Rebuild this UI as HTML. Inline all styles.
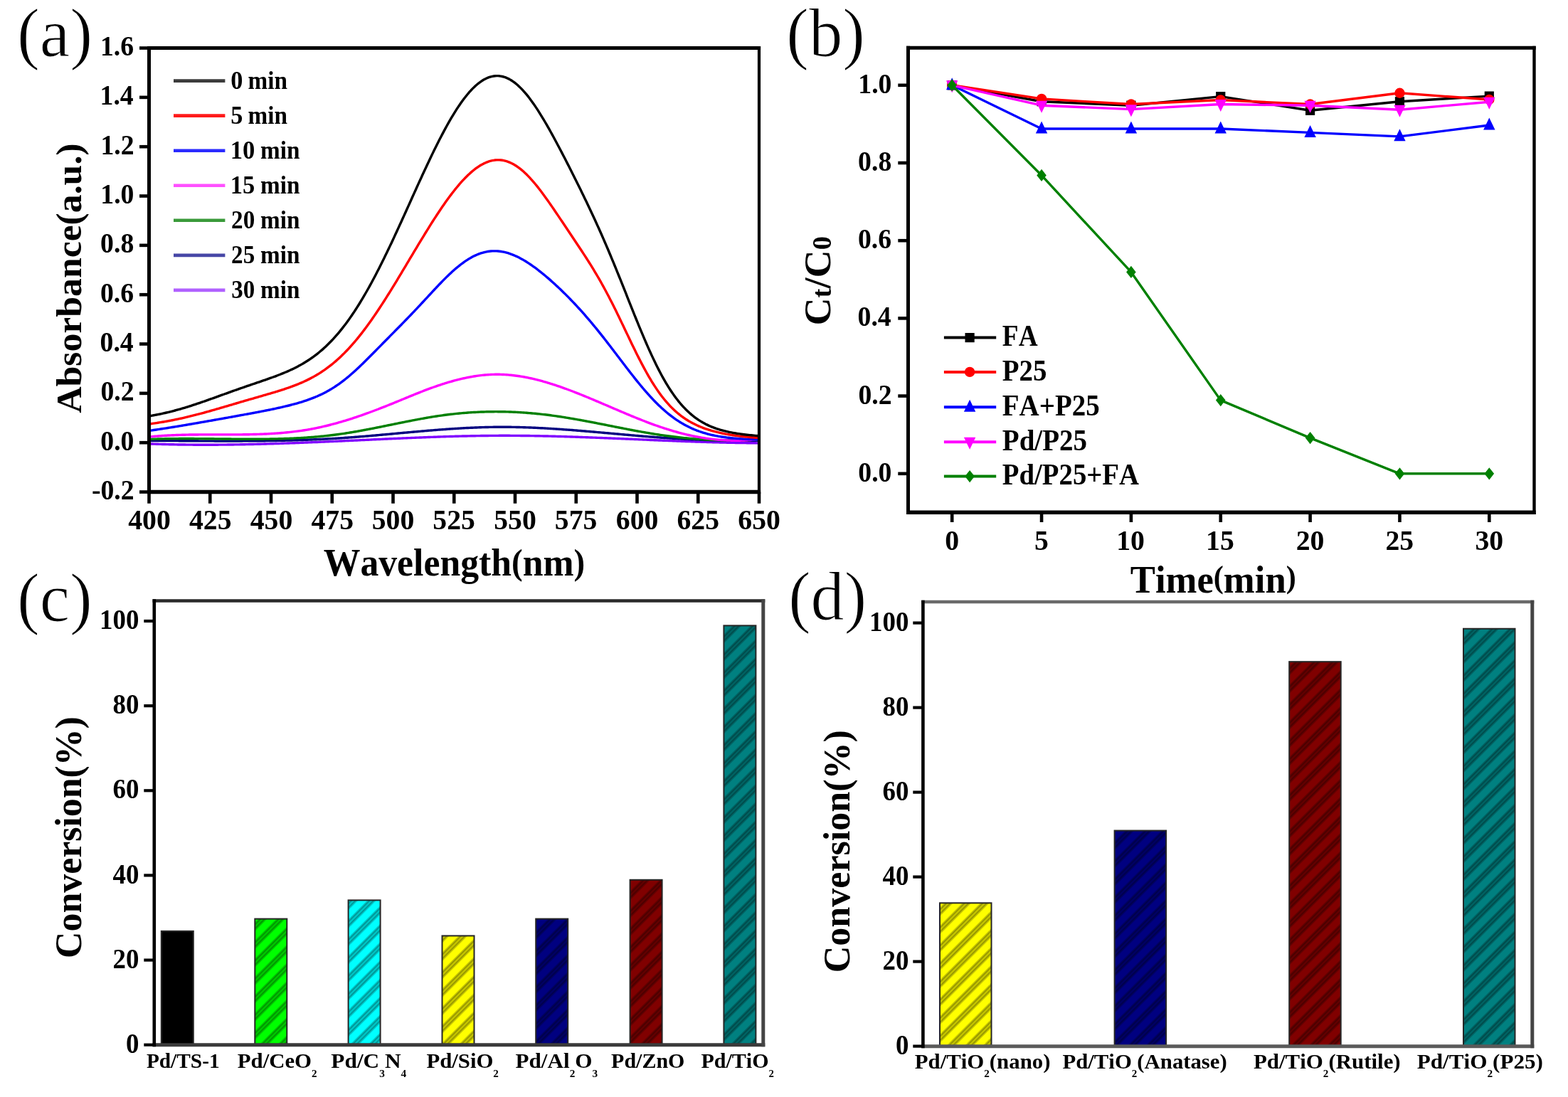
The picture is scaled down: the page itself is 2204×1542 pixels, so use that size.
<!DOCTYPE html><html><head><meta charset="utf-8"><title>Figure</title><style>html,body{margin:0;padding:0;background:#fff;}svg{display:block;filter:blur(0.7px);}text{font-family:"Liberation Serif","Times New Roman",serif;font-weight:bold;fill:#000;font-kerning:none;font-feature-settings:"kern" 0,"liga" 0;}.tn{font-weight:normal;stroke:#fff;stroke-width:1.2px;}.tb{stroke:none;}.ts{stroke:none;}</style></head><body>
<svg xmlns="http://www.w3.org/2000/svg" width="2204" height="1542" viewBox="0 0 2204 1542">
<defs>
<pattern id="h000080" patternUnits="userSpaceOnUse" width="18" height="18" patternTransform="rotate(45)">
<rect width="18" height="18" fill="#000080"/><rect width="9" height="18" fill="#000066"/><rect x="1.6" width="1.7" height="18" fill="#000046"/><rect x="5.6" width="1.7" height="18" fill="#000046"/>
</pattern>
<pattern id="h008080" patternUnits="userSpaceOnUse" width="18" height="18" patternTransform="rotate(45)">
<rect width="18" height="18" fill="#008080"/><rect width="9" height="18" fill="#006666"/><rect x="1.6" width="1.7" height="18" fill="#004646"/><rect x="5.6" width="1.7" height="18" fill="#004646"/>
</pattern>
<pattern id="h00ff00" patternUnits="userSpaceOnUse" width="18" height="18" patternTransform="rotate(45)">
<rect width="18" height="18" fill="#00ff00"/><rect width="9" height="18" fill="#00cc00"/><rect x="1.6" width="1.7" height="18" fill="#008c00"/><rect x="5.6" width="1.7" height="18" fill="#008c00"/>
</pattern>
<pattern id="h00ffff" patternUnits="userSpaceOnUse" width="18" height="18" patternTransform="rotate(45)">
<rect width="18" height="18" fill="#00ffff"/><rect width="9" height="18" fill="#00cccc"/><rect x="1.6" width="1.7" height="18" fill="#008c8c"/><rect x="5.6" width="1.7" height="18" fill="#008c8c"/>
</pattern>
<pattern id="h800000" patternUnits="userSpaceOnUse" width="18" height="18" patternTransform="rotate(45)">
<rect width="18" height="18" fill="#800000"/><rect width="9" height="18" fill="#660000"/><rect x="1.6" width="1.7" height="18" fill="#460000"/><rect x="5.6" width="1.7" height="18" fill="#460000"/>
</pattern>
<pattern id="hffff00" patternUnits="userSpaceOnUse" width="18" height="18" patternTransform="rotate(45)">
<rect width="18" height="18" fill="#ffff00"/><rect width="9" height="18" fill="#cccc00"/><rect x="1.6" width="1.7" height="18" fill="#8c8c00"/><rect x="5.6" width="1.7" height="18" fill="#8c8c00"/>
</pattern>
</defs>
<rect width="2204" height="1542" fill="#fff"/>
<g>
<clipPath id="ca"><rect x="209.5" y="67.5" width="857.5" height="624.0"/></clipPath>
<g clip-path="url(#ca)" fill="none" stroke-width="3.4" stroke-linejoin="round">
<path d="M210,623.88 L212,623.95 L214,624.02 L216,624.09 L218,624.15 L220,624.22 L222,624.28 L224,624.34 L226,624.39 L228,624.45 L230,624.5 L232,624.55 L234,624.6 L236,624.65 L238,624.69 L240,624.74 L242,624.78 L244,624.82 L246,624.86 L248,624.89 L250,624.93 L252,624.96 L254,624.99 L256,625.02 L258,625.05 L260,625.07 L262,625.09 L264,625.12 L266,625.14 L268,625.15 L270,625.17 L272,625.18 L274,625.2 L276,625.21 L278,625.22 L280,625.23 L282,625.23 L284,625.24 L286,625.24 L288,625.24 L290,625.24 L292,625.24 L294,625.24 L296,625.23 L298,625.23 L300,625.22 L302,625.21 L304,625.2 L306,625.18 L308,625.17 L310,625.16 L312,625.14 L314,625.12 L316,625.1 L318,625.08 L320,625.06 L322,625.03 L324,625.01 L326,624.98 L328,624.95 L330,624.92 L332,624.89 L334,624.86 L336,624.83 L338,624.8 L340,624.76 L342,624.72 L344,624.69 L346,624.65 L348,624.61 L350,624.56 L352,624.52 L354,624.48 L356,624.43 L358,624.39 L360,624.34 L362,624.29 L364,624.24 L366,624.19 L368,624.14 L370,624.08 L372,624.03 L374,623.98 L376,623.92 L378,623.86 L380,623.81 L382,623.75 L384,623.69 L386,623.63 L388,623.56 L390,623.5 L392,623.44 L394,623.37 L396,623.31 L398,623.24 L400,623.17 L402,623.11 L404,623.04 L406,622.97 L408,622.9 L410,622.83 L412,622.75 L414,622.68 L416,622.61 L418,622.53 L420,622.46 L422,622.38 L424,622.31 L426,622.23 L428,622.15 L430,622.07 L432,622 L434,621.92 L436,621.84 L438,621.75 L440,621.67 L442,621.59 L444,621.51 L446,621.43 L448,621.34 L450,621.26 L452,621.17 L454,621.09 L456,621 L458,620.92 L460,620.83 L462,620.74 L464,620.65 L466,620.57 L468,620.48 L470,620.39 L472,620.3 L474,620.21 L476,620.12 L478,620.03 L480,619.94 L482,619.85 L484,619.76 L486,619.67 L488,619.57 L490,619.48 L492,619.39 L494,619.3 L496,619.2 L498,619.11 L500,619.02 L502,618.93 L504,618.83 L506,618.74 L508,618.65 L510,618.55 L512,618.46 L514,618.37 L516,618.27 L518,618.18 L520,618.09 L522,617.99 L524,617.9 L526,617.81 L528,617.72 L530,617.62 L532,617.53 L534,617.44 L536,617.35 L538,617.25 L540,617.16 L542,617.07 L544,616.98 L546,616.89 L548,616.8 L550,616.71 L552,616.62 L554,616.53 L556,616.44 L558,616.35 L560,616.26 L562,616.18 L564,616.09 L566,616 L568,615.92 L570,615.83 L572,615.75 L574,615.66 L576,615.58 L578,615.49 L580,615.41 L582,615.33 L584,615.25 L586,615.17 L588,615.09 L590,615.01 L592,614.93 L594,614.85 L596,614.77 L598,614.7 L600,614.62 L602,614.55 L604,614.47 L606,614.4 L608,614.33 L610,614.26 L612,614.19 L614,614.12 L616,614.05 L618,613.99 L620,613.92 L622,613.85 L624,613.79 L626,613.73 L628,613.67 L630,613.6 L632,613.55 L634,613.49 L636,613.43 L638,613.37 L640,613.32 L642,613.27 L644,613.21 L646,613.16 L648,613.11 L650,613.06 L652,613.02 L654,612.97 L656,612.93 L658,612.88 L660,612.84 L662,612.8 L664,612.76 L666,612.73 L668,612.69 L670,612.66 L672,612.62 L674,612.59 L676,612.56 L678,612.53 L680,612.51 L682,612.48 L684,612.46 L686,612.44 L688,612.42 L690,612.4 L692,612.38 L694,612.37 L696,612.35 L698,612.34 L700,612.33 L702,612.32 L704,612.32 L706,612.31 L708,612.31 L710,612.31 L712,612.31 L714,612.32 L716,612.32 L718,612.33 L720,612.34 L722,612.35 L724,612.36 L726,612.37 L728,612.39 L730,612.41 L732,612.43 L734,612.45 L736,612.47 L738,612.49 L740,612.52 L742,612.54 L744,612.57 L746,612.6 L748,612.63 L750,612.67 L752,612.7 L754,612.74 L756,612.77 L758,612.81 L760,612.85 L762,612.89 L764,612.93 L766,612.98 L768,613.02 L770,613.07 L772,613.12 L774,613.17 L776,613.21 L778,613.27 L780,613.32 L782,613.37 L784,613.43 L786,613.48 L788,613.54 L790,613.6 L792,613.66 L794,613.72 L796,613.78 L798,613.84 L800,613.9 L802,613.96 L804,614.03 L806,614.09 L808,614.16 L810,614.23 L812,614.3 L814,614.37 L816,614.44 L818,614.51 L820,614.58 L822,614.65 L824,614.72 L826,614.8 L828,614.87 L830,614.94 L832,615.02 L834,615.1 L836,615.17 L838,615.25 L840,615.33 L842,615.41 L844,615.49 L846,615.57 L848,615.65 L850,615.73 L852,615.81 L854,615.89 L856,615.97 L858,616.05 L860,616.13 L862,616.22 L864,616.3 L866,616.38 L868,616.47 L870,616.55 L872,616.64 L874,616.72 L876,616.8 L878,616.89 L880,616.97 L882,617.06 L884,617.14 L886,617.23 L888,617.32 L890,617.4 L892,617.49 L894,617.57 L896,617.66 L898,617.74 L900,617.83 L902,617.91 L904,618 L906,618.09 L908,618.17 L910,618.26 L912,618.34 L914,618.43 L916,618.51 L918,618.59 L920,618.68 L922,618.76 L924,618.85 L926,618.93 L928,619.01 L930,619.09 L932,619.18 L934,619.26 L936,619.34 L938,619.42 L940,619.5 L942,619.58 L944,619.66 L946,619.74 L948,619.82 L950,619.9 L952,619.98 L954,620.05 L956,620.13 L958,620.21 L960,620.28 L962,620.36 L964,620.43 L966,620.5 L968,620.57 L970,620.65 L972,620.72 L974,620.79 L976,620.86 L978,620.93 L980,620.99 L982,621.06 L984,621.13 L986,621.19 L988,621.26 L990,621.32 L992,621.38 L994,621.44 L996,621.5 L998,621.56 L1000,621.62 L1002,621.68 L1004,621.74 L1006,621.79 L1008,621.84 L1010,621.9 L1012,621.95 L1014,622 L1016,622.05 L1018,622.1 L1020,622.14 L1022,622.19 L1024,622.23 L1026,622.28 L1028,622.32 L1030,622.36 L1032,622.4 L1034,622.44 L1036,622.47 L1038,622.51 L1040,622.54 L1042,622.57 L1044,622.6 L1046,622.63 L1048,622.66 L1050,622.69 L1052,622.71 L1054,622.74 L1056,622.76 L1058,622.78 L1060,622.79 L1062,622.81 L1064,622.83 L1066,622.84" stroke="#8000ff"/>
<path d="M210,619.51 L212,619.51 L214,619.52 L216,619.52 L218,619.53 L220,619.53 L222,619.54 L224,619.55 L226,619.55 L228,619.56 L230,619.57 L232,619.58 L234,619.59 L236,619.59 L238,619.6 L240,619.61 L242,619.62 L244,619.63 L246,619.64 L248,619.66 L250,619.67 L252,619.68 L254,619.69 L256,619.7 L258,619.71 L260,619.72 L262,619.73 L264,619.74 L266,619.76 L268,619.77 L270,619.78 L272,619.79 L274,619.8 L276,619.81 L278,619.82 L280,619.83 L282,619.84 L284,619.85 L286,619.86 L288,619.87 L290,619.88 L292,619.89 L294,619.9 L296,619.9 L298,619.91 L300,619.92 L302,619.93 L304,619.93 L306,619.94 L308,619.94 L310,619.95 L312,619.95 L314,619.95 L316,619.96 L318,619.96 L320,619.96 L322,619.96 L324,619.96 L326,619.96 L328,619.96 L330,619.96 L332,619.95 L334,619.95 L336,619.94 L338,619.94 L340,619.93 L342,619.92 L344,619.91 L346,619.91 L348,619.89 L350,619.88 L352,619.87 L354,619.86 L356,619.84 L358,619.83 L360,619.81 L362,619.79 L364,619.77 L366,619.75 L368,619.73 L370,619.7 L372,619.68 L374,619.65 L376,619.62 L378,619.6 L380,619.57 L382,619.53 L384,619.5 L386,619.47 L388,619.43 L390,619.39 L392,619.35 L394,619.31 L396,619.27 L398,619.23 L400,619.18 L402,619.13 L404,619.08 L406,619.03 L408,618.98 L410,618.93 L412,618.87 L414,618.81 L416,618.75 L418,618.69 L420,618.63 L422,618.56 L424,618.5 L426,618.43 L428,618.36 L430,618.28 L432,618.21 L434,618.13 L436,618.05 L438,617.97 L440,617.89 L442,617.8 L444,617.71 L446,617.62 L448,617.53 L450,617.44 L452,617.34 L454,617.24 L456,617.14 L458,617.03 L460,616.93 L462,616.82 L464,616.71 L466,616.6 L468,616.48 L470,616.36 L472,616.24 L474,616.12 L476,615.99 L478,615.86 L480,615.73 L482,615.6 L484,615.46 L486,615.32 L488,615.18 L490,615.04 L492,614.89 L494,614.74 L496,614.59 L498,614.44 L500,614.29 L502,614.13 L504,613.97 L506,613.81 L508,613.65 L510,613.49 L512,613.32 L514,613.15 L516,612.99 L518,612.82 L520,612.65 L522,612.47 L524,612.3 L526,612.13 L528,611.95 L530,611.77 L532,611.6 L534,611.42 L536,611.24 L538,611.06 L540,610.88 L542,610.7 L544,610.51 L546,610.33 L548,610.15 L550,609.97 L552,609.78 L554,609.6 L556,609.42 L558,609.23 L560,609.05 L562,608.86 L564,608.68 L566,608.5 L568,608.31 L570,608.13 L572,607.95 L574,607.77 L576,607.59 L578,607.41 L580,607.23 L582,607.05 L584,606.87 L586,606.69 L588,606.51 L590,606.34 L592,606.17 L594,605.99 L596,605.82 L598,605.65 L600,605.48 L602,605.31 L604,605.15 L606,604.98 L608,604.82 L610,604.66 L612,604.5 L614,604.34 L616,604.18 L618,604.03 L620,603.88 L622,603.73 L624,603.58 L626,603.43 L628,603.29 L630,603.15 L632,603.01 L634,602.87 L636,602.74 L638,602.61 L640,602.48 L642,602.36 L644,602.24 L646,602.12 L648,602 L650,601.89 L652,601.78 L654,601.67 L656,601.56 L658,601.46 L660,601.37 L662,601.27 L664,601.18 L666,601.1 L668,601.01 L670,600.93 L672,600.86 L674,600.79 L676,600.72 L678,600.66 L680,600.6 L682,600.54 L684,600.49 L686,600.44 L688,600.4 L690,600.36 L692,600.33 L694,600.3 L696,600.28 L698,600.26 L700,600.24 L702,600.23 L704,600.22 L706,600.22 L708,600.23 L710,600.23 L712,600.25 L714,600.26 L716,600.28 L718,600.31 L720,600.34 L722,600.37 L724,600.41 L726,600.45 L728,600.49 L730,600.54 L732,600.6 L734,600.65 L736,600.71 L738,600.78 L740,600.84 L742,600.92 L744,600.99 L746,601.07 L748,601.15 L750,601.24 L752,601.32 L754,601.41 L756,601.51 L758,601.61 L760,601.71 L762,601.81 L764,601.92 L766,602.03 L768,602.14 L770,602.25 L772,602.37 L774,602.49 L776,602.61 L778,602.74 L780,602.87 L782,603 L784,603.13 L786,603.27 L788,603.4 L790,603.54 L792,603.68 L794,603.83 L796,603.97 L798,604.12 L800,604.27 L802,604.42 L804,604.57 L806,604.73 L808,604.89 L810,605.04 L812,605.2 L814,605.36 L816,605.53 L818,605.69 L820,605.86 L822,606.02 L824,606.19 L826,606.36 L828,606.53 L830,606.7 L832,606.87 L834,607.05 L836,607.22 L838,607.4 L840,607.57 L842,607.75 L844,607.92 L846,608.1 L848,608.28 L850,608.46 L852,608.63 L854,608.81 L856,608.99 L858,609.17 L860,609.35 L862,609.53 L864,609.71 L866,609.89 L868,610.06 L870,610.24 L872,610.42 L874,610.6 L876,610.78 L878,610.95 L880,611.13 L882,611.31 L884,611.48 L886,611.66 L888,611.83 L890,612 L892,612.18 L894,612.35 L896,612.52 L898,612.69 L900,612.86 L902,613.02 L904,613.19 L906,613.35 L908,613.52 L910,613.68 L912,613.84 L914,614 L916,614.15 L918,614.31 L920,614.46 L922,614.61 L924,614.76 L926,614.91 L928,615.06 L930,615.2 L932,615.34 L934,615.48 L936,615.62 L938,615.76 L940,615.89 L942,616.02 L944,616.15 L946,616.27 L948,616.4 L950,616.52 L952,616.64 L954,616.76 L956,616.87 L958,616.98 L960,617.09 L962,617.2 L964,617.3 L966,617.4 L968,617.5 L970,617.6 L972,617.7 L974,617.79 L976,617.88 L978,617.97 L980,618.05 L982,618.13 L984,618.21 L986,618.29 L988,618.37 L990,618.44 L992,618.51 L994,618.57 L996,618.64 L998,618.7 L1000,618.76 L1002,618.82 L1004,618.87 L1006,618.92 L1008,618.97 L1010,619.02 L1012,619.06 L1014,619.1 L1016,619.14 L1018,619.18 L1020,619.21 L1022,619.24 L1024,619.26 L1026,619.29 L1028,619.31 L1030,619.33 L1032,619.35 L1034,619.36 L1036,619.37 L1038,619.38 L1040,619.38 L1042,619.38 L1044,619.38 L1046,619.38 L1048,619.37 L1050,619.36 L1052,619.35 L1054,619.34 L1056,619.32 L1058,619.3 L1060,619.27 L1062,619.25 L1064,619.22 L1066,619.18" stroke="#000080"/>
<path d="M210,617.43 L212,617.35 L214,617.28 L216,617.21 L218,617.15 L220,617.09 L222,617.03 L224,616.98 L226,616.93 L228,616.88 L230,616.84 L232,616.8 L234,616.76 L236,616.73 L238,616.7 L240,616.67 L242,616.65 L244,616.63 L246,616.61 L248,616.59 L250,616.58 L252,616.57 L254,616.56 L256,616.55 L258,616.55 L260,616.54 L262,616.54 L264,616.54 L266,616.55 L268,616.55 L270,616.56 L272,616.57 L274,616.58 L276,616.59 L278,616.6 L280,616.61 L282,616.63 L284,616.65 L286,616.66 L288,616.68 L290,616.7 L292,616.72 L294,616.74 L296,616.76 L298,616.78 L300,616.8 L302,616.83 L304,616.85 L306,616.87 L308,616.89 L310,616.92 L312,616.94 L314,616.96 L316,616.98 L318,617.01 L320,617.03 L322,617.05 L324,617.07 L326,617.09 L328,617.11 L330,617.12 L332,617.14 L334,617.16 L336,617.17 L338,617.19 L340,617.2 L342,617.21 L344,617.22 L346,617.23 L348,617.23 L350,617.24 L352,617.24 L354,617.24 L356,617.24 L358,617.24 L360,617.23 L362,617.23 L364,617.22 L366,617.21 L368,617.19 L370,617.18 L372,617.16 L374,617.13 L376,617.11 L378,617.08 L380,617.05 L382,617.02 L384,616.98 L386,616.94 L388,616.9 L390,616.85 L392,616.8 L394,616.75 L396,616.69 L398,616.63 L400,616.57 L402,616.5 L404,616.42 L406,616.35 L408,616.27 L410,616.18 L412,616.09 L414,616 L416,615.9 L418,615.8 L420,615.69 L422,615.58 L424,615.46 L426,615.34 L428,615.21 L430,615.08 L432,614.95 L434,614.8 L436,614.66 L438,614.5 L440,614.35 L442,614.18 L444,614.01 L446,613.84 L448,613.66 L450,613.47 L452,613.28 L454,613.08 L456,612.87 L458,612.66 L460,612.44 L462,612.22 L464,611.99 L466,611.75 L468,611.51 L470,611.26 L472,611 L474,610.74 L476,610.47 L478,610.19 L480,609.9 L482,609.61 L484,609.31 L486,609.01 L488,608.69 L490,608.37 L492,608.05 L494,607.72 L496,607.39 L498,607.04 L500,606.7 L502,606.35 L504,605.99 L506,605.63 L508,605.27 L510,604.9 L512,604.53 L514,604.15 L516,603.77 L518,603.39 L520,603 L522,602.61 L524,602.22 L526,601.82 L528,601.43 L530,601.03 L532,600.63 L534,600.22 L536,599.82 L538,599.41 L540,599.01 L542,598.6 L544,598.19 L546,597.78 L548,597.37 L550,596.96 L552,596.55 L554,596.14 L556,595.74 L558,595.33 L560,594.92 L562,594.51 L564,594.11 L566,593.71 L568,593.3 L570,592.9 L572,592.51 L574,592.11 L576,591.72 L578,591.33 L580,590.94 L582,590.56 L584,590.17 L586,589.8 L588,589.42 L590,589.05 L592,588.69 L594,588.32 L596,587.97 L598,587.61 L600,587.27 L602,586.92 L604,586.59 L606,586.26 L608,585.93 L610,585.61 L612,585.29 L614,584.99 L616,584.69 L618,584.39 L620,584.1 L622,583.82 L624,583.55 L626,583.28 L628,583.02 L630,582.77 L632,582.53 L634,582.29 L636,582.07 L638,581.85 L640,581.63 L642,581.43 L644,581.23 L646,581.04 L648,580.86 L650,580.68 L652,580.51 L654,580.35 L656,580.2 L658,580.05 L660,579.91 L662,579.78 L664,579.66 L666,579.54 L668,579.43 L670,579.33 L672,579.24 L674,579.15 L676,579.07 L678,579 L680,578.93 L682,578.87 L684,578.82 L686,578.78 L688,578.74 L690,578.71 L692,578.69 L694,578.68 L696,578.67 L698,578.67 L700,578.68 L702,578.69 L704,578.71 L706,578.74 L708,578.77 L710,578.81 L712,578.86 L714,578.92 L716,578.98 L718,579.05 L720,579.13 L722,579.21 L724,579.31 L726,579.4 L728,579.51 L730,579.62 L732,579.74 L734,579.86 L736,580 L738,580.14 L740,580.28 L742,580.44 L744,580.6 L746,580.76 L748,580.94 L750,581.12 L752,581.3 L754,581.5 L756,581.7 L758,581.91 L760,582.12 L762,582.34 L764,582.57 L766,582.8 L768,583.05 L770,583.29 L772,583.55 L774,583.81 L776,584.08 L778,584.35 L780,584.63 L782,584.91 L784,585.21 L786,585.5 L788,585.8 L790,586.11 L792,586.42 L794,586.74 L796,587.07 L798,587.39 L800,587.72 L802,588.06 L804,588.4 L806,588.74 L808,589.09 L810,589.45 L812,589.8 L814,590.16 L816,590.52 L818,590.89 L820,591.26 L822,591.63 L824,592 L826,592.38 L828,592.76 L830,593.14 L832,593.52 L834,593.91 L836,594.29 L838,594.68 L840,595.07 L842,595.46 L844,595.86 L846,596.25 L848,596.64 L850,597.04 L852,597.44 L854,597.83 L856,598.23 L858,598.62 L860,599.02 L862,599.42 L864,599.81 L866,600.21 L868,600.6 L870,600.99 L872,601.39 L874,601.78 L876,602.17 L878,602.56 L880,602.94 L882,603.33 L884,603.71 L886,604.09 L888,604.47 L890,604.85 L892,605.22 L894,605.59 L896,605.96 L898,606.33 L900,606.69 L902,607.05 L904,607.4 L906,607.76 L908,608.1 L910,608.45 L912,608.79 L914,609.12 L916,609.46 L918,609.78 L920,610.1 L922,610.42 L924,610.73 L926,611.04 L928,611.34 L930,611.64 L932,611.93 L934,612.22 L936,612.5 L938,612.77 L940,613.04 L942,613.3 L944,613.55 L946,613.8 L948,614.04 L950,614.28 L952,614.51 L954,614.74 L956,614.96 L958,615.17 L960,615.38 L962,615.58 L964,615.77 L966,615.96 L968,616.15 L970,616.32 L972,616.5 L974,616.66 L976,616.82 L978,616.97 L980,617.12 L982,617.26 L984,617.4 L986,617.53 L988,617.66 L990,617.77 L992,617.89 L994,617.99 L996,618.1 L998,618.19 L1000,618.28 L1002,618.37 L1004,618.44 L1006,618.52 L1008,618.58 L1010,618.64 L1012,618.7 L1014,618.75 L1016,618.79 L1018,618.83 L1020,618.86 L1022,618.89 L1024,618.91 L1026,618.92 L1028,618.93 L1030,618.93 L1032,618.93 L1034,618.92 L1036,618.91 L1038,618.89 L1040,618.87 L1042,618.84 L1044,618.8 L1046,618.76 L1048,618.71 L1050,618.66 L1052,618.6 L1054,618.54 L1056,618.47 L1058,618.39 L1060,618.31 L1062,618.22 L1064,618.13 L1066,618.03" stroke="#008000"/>
<path d="M210,614.04 L212,613.84 L214,613.65 L216,613.47 L218,613.3 L220,613.13 L222,612.97 L224,612.82 L226,612.68 L228,612.54 L230,612.41 L232,612.29 L234,612.18 L236,612.07 L238,611.96 L240,611.87 L242,611.77 L244,611.69 L246,611.61 L248,611.53 L250,611.46 L252,611.4 L254,611.34 L256,611.28 L258,611.23 L260,611.19 L262,611.14 L264,611.1 L266,611.07 L268,611.04 L270,611.01 L272,610.99 L274,610.96 L276,610.95 L278,610.93 L280,610.92 L282,610.91 L284,610.9 L286,610.89 L288,610.89 L290,610.88 L292,610.88 L294,610.88 L296,610.88 L298,610.88 L300,610.89 L302,610.89 L304,610.89 L306,610.9 L308,610.9 L310,610.9 L312,610.91 L314,610.91 L316,610.91 L318,610.92 L320,610.92 L322,610.92 L324,610.92 L326,610.91 L328,610.91 L330,610.9 L332,610.89 L334,610.88 L336,610.87 L338,610.85 L340,610.84 L342,610.82 L344,610.79 L346,610.76 L348,610.73 L350,610.7 L352,610.66 L354,610.62 L356,610.57 L358,610.52 L360,610.47 L362,610.41 L364,610.34 L366,610.27 L368,610.2 L370,610.12 L372,610.04 L374,609.95 L376,609.85 L378,609.75 L380,609.64 L382,609.52 L384,609.4 L386,609.27 L388,609.14 L390,608.99 L392,608.84 L394,608.69 L396,608.52 L398,608.35 L400,608.17 L402,607.98 L404,607.78 L406,607.58 L408,607.37 L410,607.14 L412,606.91 L414,606.67 L416,606.42 L418,606.16 L420,605.89 L422,605.61 L424,605.32 L426,605.02 L428,604.71 L430,604.39 L432,604.06 L434,603.72 L436,603.37 L438,603 L440,602.63 L442,602.24 L444,601.84 L446,601.43 L448,601.01 L450,600.57 L452,600.13 L454,599.68 L456,599.21 L458,598.73 L460,598.25 L462,597.75 L464,597.24 L466,596.72 L468,596.2 L470,595.66 L472,595.11 L474,594.56 L476,593.99 L478,593.42 L480,592.83 L482,592.24 L484,591.64 L486,591.03 L488,590.41 L490,589.79 L492,589.15 L494,588.51 L496,587.86 L498,587.2 L500,586.53 L502,585.86 L504,585.18 L506,584.49 L508,583.8 L510,583.1 L512,582.39 L514,581.68 L516,580.95 L518,580.23 L520,579.49 L522,578.75 L524,578.01 L526,577.26 L528,576.5 L530,575.74 L532,574.97 L534,574.2 L536,573.43 L538,572.64 L540,571.86 L542,571.07 L544,570.27 L546,569.47 L548,568.67 L550,567.86 L552,567.05 L554,566.23 L556,565.42 L558,564.6 L560,563.78 L562,562.95 L564,562.13 L566,561.3 L568,560.48 L570,559.66 L572,558.83 L574,558.01 L576,557.19 L578,556.38 L580,555.56 L582,554.75 L584,553.94 L586,553.14 L588,552.34 L590,551.55 L592,550.77 L594,549.98 L596,549.21 L598,548.44 L600,547.69 L602,546.93 L604,546.19 L606,545.46 L608,544.74 L610,544.02 L612,543.32 L614,542.62 L616,541.94 L618,541.27 L620,540.6 L622,539.95 L624,539.31 L626,538.69 L628,538.07 L630,537.47 L632,536.88 L634,536.3 L636,535.74 L638,535.19 L640,534.65 L642,534.13 L644,533.62 L646,533.13 L648,532.65 L650,532.18 L652,531.73 L654,531.3 L656,530.88 L658,530.48 L660,530.1 L662,529.73 L664,529.38 L666,529.05 L668,528.73 L670,528.43 L672,528.15 L674,527.89 L676,527.65 L678,527.43 L680,527.22 L682,527.04 L684,526.87 L686,526.73 L688,526.6 L690,526.5 L692,526.42 L694,526.35 L696,526.31 L698,526.29 L700,526.3 L702,526.32 L704,526.37 L706,526.43 L708,526.52 L710,526.63 L712,526.76 L714,526.9 L716,527.07 L718,527.26 L720,527.47 L722,527.69 L724,527.94 L726,528.2 L728,528.48 L730,528.78 L732,529.09 L734,529.42 L736,529.77 L738,530.14 L740,530.52 L742,530.92 L744,531.33 L746,531.77 L748,532.21 L750,532.67 L752,533.15 L754,533.63 L756,534.14 L758,534.66 L760,535.19 L762,535.73 L764,536.29 L766,536.86 L768,537.44 L770,538.04 L772,538.64 L774,539.26 L776,539.89 L778,540.53 L780,541.19 L782,541.85 L784,542.52 L786,543.2 L788,543.9 L790,544.6 L792,545.31 L794,546.03 L796,546.76 L798,547.49 L800,548.24 L802,548.99 L804,549.75 L806,550.52 L808,551.3 L810,552.08 L812,552.86 L814,553.66 L816,554.46 L818,555.26 L820,556.07 L822,556.89 L824,557.71 L826,558.54 L828,559.37 L830,560.2 L832,561.04 L834,561.88 L836,562.72 L838,563.56 L840,564.41 L842,565.26 L844,566.12 L846,566.97 L848,567.83 L850,568.69 L852,569.54 L854,570.4 L856,571.26 L858,572.12 L860,572.98 L862,573.84 L864,574.7 L866,575.55 L868,576.41 L870,577.26 L872,578.11 L874,578.96 L876,579.81 L878,580.65 L880,581.5 L882,582.33 L884,583.17 L886,584 L888,584.83 L890,585.65 L892,586.47 L894,587.28 L896,588.09 L898,588.89 L900,589.69 L902,590.48 L904,591.26 L906,592.04 L908,592.81 L910,593.58 L912,594.33 L914,595.08 L916,595.82 L918,596.55 L920,597.28 L922,597.99 L924,598.7 L926,599.4 L928,600.08 L930,600.76 L932,601.43 L934,602.08 L936,602.73 L938,603.37 L940,603.99 L942,604.6 L944,605.2 L946,605.79 L948,606.37 L950,606.94 L952,607.5 L954,608.04 L956,608.57 L958,609.1 L960,609.6 L962,610.1 L964,610.59 L966,611.06 L968,611.52 L970,611.97 L972,612.4 L974,612.83 L976,613.24 L978,613.63 L980,614.02 L982,614.39 L984,614.75 L986,615.1 L988,615.43 L990,615.75 L992,616.06 L994,616.35 L996,616.63 L998,616.9 L1000,617.15 L1002,617.39 L1004,617.62 L1006,617.83 L1008,618.03 L1010,618.21 L1012,618.38 L1014,618.53 L1016,618.67 L1018,618.8 L1020,618.91 L1022,619.01 L1024,619.09 L1026,619.16 L1028,619.21 L1030,619.25 L1032,619.28 L1034,619.28 L1036,619.28 L1038,619.26 L1040,619.22 L1042,619.17 L1044,619.1 L1046,619.01 L1048,618.91 L1050,618.8 L1052,618.67 L1054,618.52 L1056,618.36 L1058,618.18 L1060,617.98 L1062,617.77 L1064,617.54 L1066,617.3" stroke="#ff00ff"/>
<path d="M210,605.41 L212,605.13 L214,604.84 L216,604.54 L218,604.25 L220,603.95 L222,603.65 L224,603.35 L226,603.05 L228,602.74 L230,602.43 L232,602.12 L234,601.81 L236,601.49 L238,601.18 L240,600.86 L242,600.54 L244,600.21 L246,599.89 L248,599.56 L250,599.23 L252,598.91 L254,598.57 L256,598.24 L258,597.91 L260,597.57 L262,597.23 L264,596.89 L266,596.55 L268,596.21 L270,595.87 L272,595.53 L274,595.18 L276,594.84 L278,594.49 L280,594.14 L282,593.79 L284,593.44 L286,593.09 L288,592.74 L290,592.39 L292,592.04 L294,591.69 L296,591.33 L298,590.98 L300,590.62 L302,590.27 L304,589.91 L306,589.56 L308,589.2 L310,588.84 L312,588.48 L314,588.13 L316,587.77 L318,587.41 L320,587.05 L322,586.69 L324,586.33 L326,585.97 L328,585.61 L330,585.25 L332,584.88 L334,584.52 L336,584.16 L338,583.79 L340,583.43 L342,583.06 L344,582.7 L346,582.33 L348,581.96 L350,581.59 L352,581.22 L354,580.85 L356,580.48 L358,580.1 L360,579.72 L362,579.34 L364,578.96 L366,578.58 L368,578.19 L370,577.8 L372,577.41 L374,577.01 L376,576.62 L378,576.21 L380,575.81 L382,575.4 L384,574.98 L386,574.56 L388,574.13 L390,573.7 L392,573.26 L394,572.82 L396,572.37 L398,571.91 L400,571.44 L402,570.97 L404,570.48 L406,569.99 L408,569.49 L410,568.97 L412,568.45 L414,567.91 L416,567.36 L418,566.79 L420,566.22 L422,565.62 L424,565.01 L426,564.38 L428,563.74 L430,563.07 L432,562.39 L434,561.68 L436,560.95 L438,560.2 L440,559.42 L442,558.62 L444,557.79 L446,556.94 L448,556.05 L450,555.14 L452,554.19 L454,553.21 L456,552.19 L458,551.15 L460,550.06 L462,548.94 L464,547.79 L466,546.59 L468,545.36 L470,544.09 L472,542.78 L474,541.43 L476,540.04 L478,538.61 L480,537.14 L482,535.63 L484,534.08 L486,532.5 L488,530.87 L490,529.22 L492,527.52 L494,525.79 L496,524.03 L498,522.24 L500,520.42 L502,518.58 L504,516.7 L506,514.81 L508,512.89 L510,510.95 L512,508.99 L514,507.02 L516,505.04 L518,503.04 L520,501.04 L522,499.02 L524,497 L526,494.97 L528,492.95 L530,490.91 L532,488.88 L534,486.85 L536,484.82 L538,482.79 L540,480.76 L542,478.73 L544,476.7 L546,474.68 L548,472.66 L550,470.63 L552,468.61 L554,466.59 L556,464.57 L558,462.54 L560,460.51 L562,458.48 L564,456.45 L566,454.41 L568,452.36 L570,450.31 L572,448.25 L574,446.18 L576,444.1 L578,442.02 L580,439.92 L582,437.82 L584,435.7 L586,433.58 L588,431.45 L590,429.31 L592,427.17 L594,425.01 L596,422.86 L598,420.7 L600,418.54 L602,416.38 L604,414.22 L606,412.06 L608,409.91 L610,407.76 L612,405.62 L614,403.5 L616,401.39 L618,399.3 L620,397.22 L622,395.17 L624,393.14 L626,391.14 L628,389.16 L630,387.22 L632,385.31 L634,383.44 L636,381.6 L638,379.81 L640,378.06 L642,376.35 L644,374.69 L646,373.08 L648,371.52 L650,370.02 L652,368.57 L654,367.17 L656,365.84 L658,364.56 L660,363.35 L662,362.19 L664,361.1 L666,360.08 L668,359.12 L670,358.22 L672,357.4 L674,356.64 L676,355.95 L678,355.33 L680,354.77 L682,354.29 L684,353.87 L686,353.53 L688,353.25 L690,353.04 L692,352.9 L694,352.83 L696,352.83 L698,352.9 L700,353.03 L702,353.22 L704,353.49 L706,353.81 L708,354.2 L710,354.65 L712,355.17 L714,355.74 L716,356.37 L718,357.06 L720,357.81 L722,358.61 L724,359.46 L726,360.37 L728,361.33 L730,362.33 L732,363.39 L734,364.49 L736,365.63 L738,366.82 L740,368.05 L742,369.32 L744,370.63 L746,371.98 L748,373.36 L750,374.78 L752,376.24 L754,377.72 L756,379.24 L758,380.79 L760,382.36 L762,383.97 L764,385.6 L766,387.25 L768,388.94 L770,390.65 L772,392.38 L774,394.13 L776,395.91 L778,397.71 L780,399.53 L782,401.38 L784,403.24 L786,405.13 L788,407.04 L790,408.97 L792,410.92 L794,412.89 L796,414.88 L798,416.89 L800,418.93 L802,420.98 L804,423.06 L806,425.15 L808,427.27 L810,429.41 L812,431.57 L814,433.76 L816,435.96 L818,438.19 L820,440.44 L822,442.71 L824,445.01 L826,447.32 L828,449.66 L830,452.02 L832,454.4 L834,456.81 L836,459.23 L838,461.67 L840,464.14 L842,466.62 L844,469.12 L846,471.64 L848,474.17 L850,476.72 L852,479.29 L854,481.86 L856,484.45 L858,487.05 L860,489.66 L862,492.28 L864,494.91 L866,497.53 L868,500.17 L870,502.8 L872,505.43 L874,508.07 L876,510.69 L878,513.31 L880,515.93 L882,518.53 L884,521.12 L886,523.7 L888,526.27 L890,528.81 L892,531.34 L894,533.85 L896,536.33 L898,538.79 L900,541.22 L902,543.62 L904,545.99 L906,548.33 L908,550.64 L910,552.91 L912,555.15 L914,557.35 L916,559.51 L918,561.63 L920,563.71 L922,565.75 L924,567.74 L926,569.7 L928,571.6 L930,573.46 L932,575.28 L934,577.05 L936,578.77 L938,580.45 L940,582.08 L942,583.67 L944,585.2 L946,586.69 L948,588.13 L950,589.53 L952,590.88 L954,592.19 L956,593.45 L958,594.66 L960,595.83 L962,596.96 L964,598.05 L966,599.09 L968,600.09 L970,601.06 L972,601.98 L974,602.86 L976,603.71 L978,604.52 L980,605.29 L982,606.03 L984,606.74 L986,607.41 L988,608.05 L990,608.66 L992,609.24 L994,609.79 L996,610.32 L998,610.81 L1000,611.29 L1002,611.73 L1004,612.16 L1006,612.56 L1008,612.94 L1010,613.3 L1012,613.64 L1014,613.96 L1016,614.26 L1018,614.55 L1020,614.81 L1022,615.07 L1024,615.31 L1026,615.53 L1028,615.74 L1030,615.94 L1032,616.12 L1034,616.29 L1036,616.46 L1038,616.61 L1040,616.75 L1042,616.89 L1044,617.01 L1046,617.13 L1048,617.24 L1050,617.34 L1052,617.43 L1054,617.52 L1056,617.6 L1058,617.68 L1060,617.75 L1062,617.82 L1064,617.88 L1066,617.93" stroke="#0000ff"/>
<path d="M210,595.96 L212,595.7 L214,595.43 L216,595.15 L218,594.86 L220,594.56 L222,594.26 L224,593.94 L226,593.62 L228,593.29 L230,592.95 L232,592.61 L234,592.25 L236,591.89 L238,591.51 L240,591.13 L242,590.75 L244,590.35 L246,589.94 L248,589.53 L250,589.11 L252,588.68 L254,588.24 L256,587.8 L258,587.34 L260,586.88 L262,586.41 L264,585.94 L266,585.46 L268,584.97 L270,584.47 L272,583.97 L274,583.46 L276,582.94 L278,582.42 L280,581.9 L282,581.36 L284,580.83 L286,580.28 L288,579.74 L290,579.18 L292,578.63 L294,578.07 L296,577.5 L298,576.93 L300,576.36 L302,575.79 L304,575.21 L306,574.63 L308,574.05 L310,573.47 L312,572.88 L314,572.3 L316,571.71 L318,571.12 L320,570.53 L322,569.94 L324,569.35 L326,568.76 L328,568.18 L330,567.59 L332,567 L334,566.41 L336,565.82 L338,565.24 L340,564.65 L342,564.07 L344,563.48 L346,562.9 L348,562.32 L350,561.74 L352,561.16 L354,560.58 L356,560.01 L358,559.43 L360,558.86 L362,558.28 L364,557.7 L366,557.13 L368,556.55 L370,555.98 L372,555.4 L374,554.82 L376,554.23 L378,553.65 L380,553.06 L382,552.47 L384,551.87 L386,551.27 L388,550.66 L390,550.05 L392,549.43 L394,548.8 L396,548.17 L398,547.52 L400,546.86 L402,546.19 L404,545.51 L406,544.82 L408,544.11 L410,543.39 L412,542.65 L414,541.89 L416,541.12 L418,540.33 L420,539.51 L422,538.68 L424,537.82 L426,536.93 L428,536.03 L430,535.09 L432,534.13 L434,533.14 L436,532.12 L438,531.07 L440,529.99 L442,528.88 L444,527.73 L446,526.55 L448,525.33 L450,524.08 L452,522.78 L454,521.45 L456,520.08 L458,518.67 L460,517.22 L462,515.72 L464,514.18 L466,512.6 L468,510.98 L470,509.31 L472,507.59 L474,505.84 L476,504.03 L478,502.18 L480,500.28 L482,498.34 L484,496.34 L486,494.31 L488,492.22 L490,490.09 L492,487.91 L494,485.69 L496,483.42 L498,481.1 L500,478.74 L502,476.33 L504,473.87 L506,471.38 L508,468.84 L510,466.26 L512,463.63 L514,460.96 L516,458.26 L518,455.51 L520,452.73 L522,449.9 L524,447.04 L526,444.15 L528,441.22 L530,438.26 L532,435.26 L534,432.24 L536,429.18 L538,426.1 L540,422.99 L542,419.85 L544,416.69 L546,413.51 L548,410.3 L550,407.08 L552,403.84 L554,400.57 L556,397.3 L558,394.01 L560,390.7 L562,387.39 L564,384.06 L566,380.73 L568,377.39 L570,374.04 L572,370.69 L574,367.34 L576,363.99 L578,360.64 L580,357.29 L582,353.94 L584,350.6 L586,347.27 L588,343.95 L590,340.63 L592,337.33 L594,334.04 L596,330.77 L598,327.51 L600,324.27 L602,321.05 L604,317.85 L606,314.68 L608,311.53 L610,308.4 L612,305.31 L614,302.24 L616,299.2 L618,296.2 L620,293.24 L622,290.31 L624,287.42 L626,284.57 L628,281.76 L630,279 L632,276.28 L634,273.61 L636,270.99 L638,268.42 L640,265.91 L642,263.45 L644,261.05 L646,258.71 L648,256.43 L650,254.22 L652,252.07 L654,249.99 L656,247.97 L658,246.03 L660,244.16 L662,242.37 L664,240.65 L666,239.01 L668,237.46 L670,235.98 L672,234.59 L674,233.29 L676,232.07 L678,230.95 L680,229.91 L682,228.97 L684,228.12 L686,227.36 L688,226.71 L690,226.15 L692,225.68 L694,225.32 L696,225.06 L698,224.9 L700,224.84 L702,224.89 L704,225.04 L706,225.29 L708,225.65 L710,226.11 L712,226.68 L714,227.34 L716,228.12 L718,228.99 L720,229.97 L722,231.04 L724,232.22 L726,233.5 L728,234.87 L730,236.34 L732,237.91 L734,239.57 L736,241.31 L738,243.15 L740,245.07 L742,247.08 L744,249.16 L746,251.32 L748,253.56 L750,255.86 L752,258.24 L754,260.67 L756,263.17 L758,265.73 L760,268.33 L762,270.99 L764,273.69 L766,276.44 L768,279.22 L770,282.03 L772,284.88 L774,287.75 L776,290.65 L778,293.56 L780,296.5 L782,299.44 L784,302.4 L786,305.37 L788,308.34 L790,311.32 L792,314.3 L794,317.28 L796,320.27 L798,323.25 L800,326.24 L802,329.22 L804,332.21 L806,335.2 L808,338.19 L810,341.19 L812,344.19 L814,347.2 L816,350.23 L818,353.27 L820,356.32 L822,359.4 L824,362.5 L826,365.62 L828,368.78 L830,371.97 L832,375.19 L834,378.45 L836,381.76 L838,385.11 L840,388.51 L842,391.96 L844,395.46 L846,399.01 L848,402.61 L850,406.27 L852,409.98 L854,413.75 L856,417.57 L858,421.44 L860,425.35 L862,429.32 L864,433.32 L866,437.37 L868,441.45 L870,445.57 L872,449.71 L874,453.87 L876,458.05 L878,462.24 L880,466.43 L882,470.63 L884,474.81 L886,478.98 L888,483.14 L890,487.26 L892,491.36 L894,495.41 L896,499.42 L898,503.38 L900,507.29 L902,511.14 L904,514.92 L906,518.63 L908,522.27 L910,525.83 L912,529.31 L914,532.7 L916,536.02 L918,539.24 L920,542.37 L922,545.41 L924,548.36 L926,551.22 L928,553.98 L930,556.66 L932,559.24 L934,561.73 L936,564.12 L938,566.43 L940,568.65 L942,570.79 L944,572.84 L946,574.81 L948,576.7 L950,578.51 L952,580.25 L954,581.91 L956,583.5 L958,585.03 L960,586.49 L962,587.88 L964,589.22 L966,590.49 L968,591.72 L970,592.88 L972,594 L974,595.07 L976,596.09 L978,597.06 L980,597.99 L982,598.88 L984,599.73 L986,600.55 L988,601.33 L990,602.07 L992,602.78 L994,603.47 L996,604.12 L998,604.74 L1000,605.34 L1002,605.91 L1004,606.45 L1006,606.97 L1008,607.47 L1010,607.95 L1012,608.41 L1014,608.84 L1016,609.26 L1018,609.66 L1020,610.05 L1022,610.41 L1024,610.77 L1026,611.1 L1028,611.42 L1030,611.73 L1032,612.02 L1034,612.31 L1036,612.58 L1038,612.83 L1040,613.08 L1042,613.32 L1044,613.54 L1046,613.76 L1048,613.97 L1050,614.17 L1052,614.36 L1054,614.54 L1056,614.71 L1058,614.88 L1060,615.04 L1062,615.19 L1064,615.34 L1066,615.48" stroke="#ff0000"/>
<path d="M210,584.84 L212,584.5 L214,584.15 L216,583.79 L218,583.42 L220,583.03 L222,582.64 L224,582.23 L226,581.81 L228,581.38 L230,580.94 L232,580.49 L234,580.03 L236,579.55 L238,579.06 L240,578.57 L242,578.06 L244,577.54 L246,577.01 L248,576.47 L250,575.91 L252,575.35 L254,574.78 L256,574.2 L258,573.61 L260,573.01 L262,572.4 L264,571.78 L266,571.15 L268,570.51 L270,569.87 L272,569.22 L274,568.56 L276,567.9 L278,567.23 L280,566.55 L282,565.87 L284,565.18 L286,564.48 L288,563.79 L290,563.08 L292,562.38 L294,561.67 L296,560.96 L298,560.24 L300,559.53 L302,558.81 L304,558.09 L306,557.37 L308,556.64 L310,555.92 L312,555.2 L314,554.48 L316,553.76 L318,553.04 L320,552.32 L322,551.6 L324,550.89 L326,550.18 L328,549.46 L330,548.76 L332,548.05 L334,547.35 L336,546.64 L338,545.94 L340,545.25 L342,544.55 L344,543.86 L346,543.17 L348,542.48 L350,541.8 L352,541.11 L354,540.43 L356,539.75 L358,539.07 L360,538.39 L362,537.7 L364,537.02 L366,536.34 L368,535.65 L370,534.97 L372,534.28 L374,533.58 L376,532.88 L378,532.18 L380,531.47 L382,530.75 L384,530.02 L386,529.29 L388,528.54 L390,527.78 L392,527.02 L394,526.24 L396,525.44 L398,524.63 L400,523.8 L402,522.96 L404,522.09 L406,521.21 L408,520.3 L410,519.38 L412,518.42 L414,517.45 L416,516.44 L418,515.41 L420,514.35 L422,513.26 L424,512.14 L426,510.98 L428,509.79 L430,508.56 L432,507.3 L434,506 L436,504.66 L438,503.27 L440,501.85 L442,500.38 L444,498.87 L446,497.31 L448,495.71 L450,494.05 L452,492.35 L454,490.6 L456,488.8 L458,486.95 L460,485.04 L462,483.08 L464,481.07 L466,479 L468,476.88 L470,474.7 L472,472.46 L474,470.17 L476,467.82 L478,465.41 L480,462.94 L482,460.41 L484,457.83 L486,455.18 L488,452.48 L490,449.71 L492,446.89 L494,444.01 L496,441.07 L498,438.07 L500,435.01 L502,431.9 L504,428.73 L506,425.5 L508,422.21 L510,418.87 L512,415.47 L514,412.02 L516,408.52 L518,404.96 L520,401.36 L522,397.7 L524,393.99 L526,390.24 L528,386.43 L530,382.58 L532,378.69 L534,374.76 L536,370.78 L538,366.76 L540,362.71 L542,358.61 L544,354.49 L546,350.32 L548,346.13 L550,341.91 L552,337.66 L554,333.38 L556,329.08 L558,324.75 L560,320.41 L562,316.05 L564,311.67 L566,307.28 L568,302.87 L570,298.46 L572,294.04 L574,289.61 L576,285.18 L578,280.75 L580,276.32 L582,271.9 L584,267.48 L586,263.07 L588,258.67 L590,254.29 L592,249.92 L594,245.57 L596,241.25 L598,236.94 L600,232.67 L602,228.42 L604,224.2 L606,220.02 L608,215.87 L610,211.77 L612,207.7 L614,203.68 L616,199.7 L618,195.78 L620,191.91 L622,188.09 L624,184.33 L626,180.62 L628,176.99 L630,173.41 L632,169.9 L634,166.47 L636,163.1 L638,159.81 L640,156.6 L642,153.46 L644,150.41 L646,147.44 L648,144.56 L650,141.77 L652,139.07 L654,136.47 L656,133.96 L658,131.54 L660,129.23 L662,127.02 L664,124.92 L666,122.92 L668,121.03 L670,119.24 L672,117.57 L674,116.02 L676,114.57 L678,113.25 L680,112.04 L682,110.95 L684,109.98 L686,109.13 L688,108.4 L690,107.8 L692,107.32 L694,106.97 L696,106.74 L698,106.64 L700,106.66 L702,106.81 L704,107.09 L706,107.49 L708,108.01 L710,108.67 L712,109.44 L714,110.35 L716,111.37 L718,112.52 L720,113.78 L722,115.17 L724,116.68 L726,118.3 L728,120.03 L730,121.88 L732,123.84 L734,125.9 L736,128.07 L738,130.35 L740,132.72 L742,135.19 L744,137.75 L746,140.41 L748,143.15 L750,145.98 L752,148.89 L754,151.88 L756,154.94 L758,158.07 L760,161.28 L762,164.54 L764,167.86 L766,171.25 L768,174.68 L770,178.17 L772,181.7 L774,185.27 L776,188.89 L778,192.54 L780,196.23 L782,199.95 L784,203.7 L786,207.48 L788,211.28 L790,215.11 L792,218.96 L794,222.83 L796,226.72 L798,230.62 L800,234.55 L802,238.49 L804,242.45 L806,246.42 L808,250.41 L810,254.42 L812,258.45 L814,262.5 L816,266.56 L818,270.65 L820,274.76 L822,278.89 L824,283.04 L826,287.23 L828,291.44 L830,295.68 L832,299.95 L834,304.25 L836,308.58 L838,312.95 L840,317.36 L842,321.81 L844,326.29 L846,330.81 L848,335.37 L850,339.97 L852,344.61 L854,349.29 L856,354 L858,358.76 L860,363.55 L862,368.38 L864,373.24 L866,378.13 L868,383.04 L870,387.99 L872,392.96 L874,397.94 L876,402.95 L878,407.96 L880,412.99 L882,418.01 L884,423.04 L886,428.06 L888,433.07 L890,438.07 L892,443.04 L894,448 L896,452.92 L898,457.8 L900,462.65 L902,467.45 L904,472.2 L906,476.89 L908,481.53 L910,486.1 L912,490.6 L914,495.03 L916,499.38 L918,503.65 L920,507.84 L922,511.95 L924,515.96 L926,519.88 L928,523.7 L930,527.43 L932,531.07 L934,534.6 L936,538.03 L938,541.36 L940,544.59 L942,547.71 L944,550.73 L946,553.65 L948,556.47 L950,559.19 L952,561.81 L954,564.33 L956,566.76 L958,569.09 L960,571.32 L962,573.46 L964,575.52 L966,577.48 L968,579.36 L970,581.16 L972,582.88 L974,584.51 L976,586.08 L978,587.56 L980,588.98 L982,590.33 L984,591.62 L986,592.84 L988,594 L990,595.1 L992,596.15 L994,597.14 L996,598.09 L998,598.98 L1000,599.83 L1002,600.63 L1004,601.4 L1006,602.12 L1008,602.8 L1010,603.45 L1012,604.06 L1014,604.65 L1016,605.2 L1018,605.72 L1020,606.21 L1022,606.68 L1024,607.13 L1026,607.55 L1028,607.95 L1030,608.32 L1032,608.68 L1034,609.02 L1036,609.34 L1038,609.65 L1040,609.94 L1042,610.22 L1044,610.48 L1046,610.73 L1048,610.96 L1050,611.19 L1052,611.4 L1054,611.61 L1056,611.8 L1058,611.99 L1060,612.16 L1062,612.33 L1064,612.49 L1066,612.65" stroke="#000000"/>
</g>
<path d="M207,67.5H1069.1" stroke="#000" stroke-width="5.2" fill="none"/>
<path d="M207,691.5H1069.1" stroke="#000" stroke-width="5.6" fill="none"/>
<path d="M1067,64.9V694.3" stroke="#000" stroke-width="4.2" fill="none"/>
<path d="M209.5,64.9V694.3" stroke="#000" stroke-width="5" fill="none"/>
<line x1="196" y1="691.53" x2="209.5" y2="691.53" stroke="#000" stroke-width="4.6"/>
<text transform="translate(128.91,702.03) scale(0.9200,1)" font-size="41" class="tb">-0.2</text>
<line x1="196" y1="622.2" x2="209.5" y2="622.2" stroke="#000" stroke-width="4.6"/>
<text transform="translate(141.29,632.7) scale(0.9200,1)" font-size="41" class="tb">0.0</text>
<line x1="196" y1="552.87" x2="209.5" y2="552.87" stroke="#000" stroke-width="4.6"/>
<text transform="translate(141.47,563.37) scale(0.9200,1)" font-size="41" class="tb">0.2</text>
<line x1="196" y1="483.53" x2="209.5" y2="483.53" stroke="#000" stroke-width="4.6"/>
<text transform="translate(140.55,494.03) scale(0.9200,1)" font-size="41" class="tb">0.4</text>
<line x1="196" y1="414.2" x2="209.5" y2="414.2" stroke="#000" stroke-width="4.6"/>
<text transform="translate(140.96,424.7) scale(0.9200,1)" font-size="41" class="tb">0.6</text>
<line x1="196" y1="344.86" x2="209.5" y2="344.86" stroke="#000" stroke-width="4.6"/>
<text transform="translate(141.1,355.36) scale(0.9200,1)" font-size="41" class="tb">0.8</text>
<line x1="196" y1="275.53" x2="209.5" y2="275.53" stroke="#000" stroke-width="4.6"/>
<text transform="translate(141.29,286.03) scale(0.9200,1)" font-size="41" class="tb">1.0</text>
<line x1="196" y1="206.2" x2="209.5" y2="206.2" stroke="#000" stroke-width="4.6"/>
<text transform="translate(141.47,216.7) scale(0.9200,1)" font-size="41" class="tb">1.2</text>
<line x1="196" y1="136.86" x2="209.5" y2="136.86" stroke="#000" stroke-width="4.6"/>
<text transform="translate(140.55,147.36) scale(0.9200,1)" font-size="41" class="tb">1.4</text>
<line x1="196" y1="67.53" x2="209.5" y2="67.53" stroke="#000" stroke-width="4.6"/>
<text transform="translate(140.96,78.03) scale(0.9200,1)" font-size="41" class="tb">1.6</text>
<line x1="209.5" y1="691.5" x2="209.5" y2="707.7" stroke="#000" stroke-width="4.6"/>
<text transform="translate(180.16,743.5) scale(0.9700,1)" font-size="41" class="tb">400</text>
<line x1="295.25" y1="691.5" x2="295.25" y2="707.7" stroke="#000" stroke-width="4.6"/>
<text transform="translate(265.88,743.5) scale(0.9700,1)" font-size="41" class="tb">425</text>
<line x1="381" y1="691.5" x2="381" y2="707.7" stroke="#000" stroke-width="4.6"/>
<text transform="translate(351.66,743.5) scale(0.9700,1)" font-size="41" class="tb">450</text>
<line x1="466.75" y1="691.5" x2="466.75" y2="707.7" stroke="#000" stroke-width="4.6"/>
<text transform="translate(437.38,743.5) scale(0.9700,1)" font-size="41" class="tb">475</text>
<line x1="552.5" y1="691.5" x2="552.5" y2="707.7" stroke="#000" stroke-width="4.6"/>
<text transform="translate(522.63,743.5) scale(0.9700,1)" font-size="41" class="tb">500</text>
<line x1="638.25" y1="691.5" x2="638.25" y2="707.7" stroke="#000" stroke-width="4.6"/>
<text transform="translate(608.35,743.5) scale(0.9700,1)" font-size="41" class="tb">525</text>
<line x1="724" y1="691.5" x2="724" y2="707.7" stroke="#000" stroke-width="4.6"/>
<text transform="translate(694.13,743.5) scale(0.9700,1)" font-size="41" class="tb">550</text>
<line x1="809.75" y1="691.5" x2="809.75" y2="707.7" stroke="#000" stroke-width="4.6"/>
<text transform="translate(779.85,743.5) scale(0.9700,1)" font-size="41" class="tb">575</text>
<line x1="895.5" y1="691.5" x2="895.5" y2="707.7" stroke="#000" stroke-width="4.6"/>
<text transform="translate(865.75,743.5) scale(0.9700,1)" font-size="41" class="tb">600</text>
<line x1="981.25" y1="691.5" x2="981.25" y2="707.7" stroke="#000" stroke-width="4.6"/>
<text transform="translate(951.47,743.5) scale(0.9700,1)" font-size="41" class="tb">625</text>
<line x1="1067" y1="691.5" x2="1067" y2="707.7" stroke="#000" stroke-width="4.6"/>
<text transform="translate(1037.25,743.5) scale(0.9700,1)" font-size="41" class="tb">650</text>
<text transform="translate(454.67,809) scale(0.9406,1)" font-size="55" class="tb"><tspan>Wavelength</tspan><tspan font-size="50" dy="-1.6">(</tspan><tspan dy="1.6">nm</tspan><tspan font-size="50" dy="-1.6">)</tspan></text>
<text class="tb" transform="translate(114.3,580.81) rotate(-90) scale(1.0146,1)" font-size="51">Absorbance(a.u.)</text>
<text transform="translate(23.89,78.8) scale(0.9775,1)" font-size="98" class="tn">(a)</text>
<line x1="244" y1="113.6" x2="316.4" y2="113.6" stroke="#3c3c3c" stroke-width="4.6"/>
<text transform="translate(324.2,124.8) scale(0.9775,1)" font-size="35" class="tb">0</text>
<text transform="translate(348.61,124.8) scale(0.9512,1)" font-size="35" class="tb">min</text>
<line x1="244" y1="162.65" x2="316.4" y2="162.65" stroke="#ff1a1a" stroke-width="4.6"/>
<text transform="translate(324.13,173.85) scale(0.9786,1)" font-size="35" class="tb">5</text>
<text transform="translate(348.61,173.85) scale(0.9512,1)" font-size="35" class="tb">min</text>
<line x1="244" y1="211.7" x2="316.4" y2="211.7" stroke="#2a2aff" stroke-width="4.6"/>
<text transform="translate(323.73,222.9) scale(0.9882,1)" font-size="35" class="tb">10</text>
<text transform="translate(366.11,222.9) scale(0.9495,1)" font-size="35" class="tb">min</text>
<line x1="244" y1="260.75" x2="316.4" y2="260.75" stroke="#ff50ff" stroke-width="4.6"/>
<text transform="translate(323.73,271.95) scale(0.9866,1)" font-size="35" class="tb">15</text>
<text transform="translate(366.11,271.95) scale(0.9495,1)" font-size="35" class="tb">min</text>
<line x1="244" y1="309.8" x2="316.4" y2="309.8" stroke="#3a9a3a" stroke-width="4.6"/>
<text transform="translate(325.11,321) scale(0.9473,1)" font-size="35" class="tb">20</text>
<text transform="translate(366.11,321) scale(0.9495,1)" font-size="35" class="tb">min</text>
<line x1="244" y1="358.85" x2="316.4" y2="358.85" stroke="#4646a6" stroke-width="4.6"/>
<text transform="translate(325.11,370.05) scale(0.9458,1)" font-size="35" class="tb">25</text>
<text transform="translate(366.11,370.05) scale(0.9495,1)" font-size="35" class="tb">min</text>
<line x1="244" y1="407.9" x2="316.4" y2="407.9" stroke="#b060ff" stroke-width="4.6"/>
<text transform="translate(325.26,419.1) scale(0.9428,1)" font-size="35" class="tb">30</text>
<text transform="translate(366.11,419.1) scale(0.9495,1)" font-size="35" class="tb">min</text>
</g>
<g>
<polyline points="1338.2,119.8 1464.05,142.73 1589.9,148.19 1715.75,135.63 1841.6,155.29 1967.45,142.73 2093.3,135.09" fill="none" stroke="#000000" stroke-width="3.4" stroke-linejoin="round"/>
<rect x="1331.6" y="113.2" width="13.2" height="13.2" fill="#000000"/>
<rect x="1457.45" y="136.13" width="13.2" height="13.2" fill="#000000"/>
<rect x="1583.3" y="141.59" width="13.2" height="13.2" fill="#000000"/>
<rect x="1709.15" y="129.03" width="13.2" height="13.2" fill="#000000"/>
<rect x="1835" y="148.69" width="13.2" height="13.2" fill="#000000"/>
<rect x="1960.85" y="136.13" width="13.2" height="13.2" fill="#000000"/>
<rect x="2086.7" y="128.49" width="13.2" height="13.2" fill="#000000"/>
<polyline points="1338.2,119.8 1464.05,138.91 1589.9,146.55 1715.75,140.55 1841.6,146.55 1967.45,130.72 2093.3,140" fill="none" stroke="#ff0000" stroke-width="3.4" stroke-linejoin="round"/>
<circle cx="1338.2" cy="119.8" r="7.2" fill="#ff0000"/>
<circle cx="1464.05" cy="138.91" r="7.2" fill="#ff0000"/>
<circle cx="1589.9" cy="146.55" r="7.2" fill="#ff0000"/>
<circle cx="1715.75" cy="140.55" r="7.2" fill="#ff0000"/>
<circle cx="1841.6" cy="146.55" r="7.2" fill="#ff0000"/>
<circle cx="1967.45" cy="130.72" r="7.2" fill="#ff0000"/>
<circle cx="2093.3" cy="140" r="7.2" fill="#ff0000"/>
<polyline points="1338.2,119.8 1464.05,180.95 1589.9,180.95 1715.75,180.95 1841.6,186.41 1967.45,191.87 2093.3,176.04" fill="none" stroke="#0000ff" stroke-width="3.4" stroke-linejoin="round"/>
<path d="M1338.2,109.3 L1346.4,126.3 L1330,126.3 Z" fill="#0000ff"/>
<path d="M1464.05,170.45 L1472.25,187.45 L1455.85,187.45 Z" fill="#0000ff"/>
<path d="M1589.9,170.45 L1598.1,187.45 L1581.7,187.45 Z" fill="#0000ff"/>
<path d="M1715.75,170.45 L1723.95,187.45 L1707.55,187.45 Z" fill="#0000ff"/>
<path d="M1841.6,175.91 L1849.8,192.91 L1833.4,192.91 Z" fill="#0000ff"/>
<path d="M1967.45,181.37 L1975.65,198.37 L1959.25,198.37 Z" fill="#0000ff"/>
<path d="M2093.3,165.54 L2101.5,182.54 L2085.1,182.54 Z" fill="#0000ff"/>
<polyline points="1338.2,119.8 1464.05,148.19 1589.9,153.65 1715.75,146.55 1841.6,148.19 1967.45,154.2 2093.3,143.28" fill="none" stroke="#ff00ff" stroke-width="3.4" stroke-linejoin="round"/>
<path d="M1338.2,130.3 L1346.4,113.3 L1330,113.3 Z" fill="#ff00ff"/>
<path d="M1464.05,158.69 L1472.25,141.69 L1455.85,141.69 Z" fill="#ff00ff"/>
<path d="M1589.9,164.15 L1598.1,147.15 L1581.7,147.15 Z" fill="#ff00ff"/>
<path d="M1715.75,157.05 L1723.95,140.05 L1707.55,140.05 Z" fill="#ff00ff"/>
<path d="M1841.6,158.69 L1849.8,141.69 L1833.4,141.69 Z" fill="#ff00ff"/>
<path d="M1967.45,164.7 L1975.65,147.7 L1959.25,147.7 Z" fill="#ff00ff"/>
<path d="M2093.3,153.78 L2101.5,136.78 L2085.1,136.78 Z" fill="#ff00ff"/>
<polyline points="1338.2,119.8 1464.05,246.47 1589.9,382.43 1715.75,562.61 1841.6,615.57 1967.45,665.8 2093.3,665.8" fill="none" stroke="#008000" stroke-width="3.4" stroke-linejoin="round"/>
<path d="M1338.2,111.2 L1345,119.8 L1338.2,128.4 L1331.4,119.8 Z" fill="#008000"/>
<path d="M1464.05,237.87 L1470.85,246.47 L1464.05,255.07 L1457.25,246.47 Z" fill="#008000"/>
<path d="M1589.9,373.83 L1596.7,382.43 L1589.9,391.03 L1583.1,382.43 Z" fill="#008000"/>
<path d="M1715.75,554.01 L1722.55,562.61 L1715.75,571.21 L1708.95,562.61 Z" fill="#008000"/>
<path d="M1841.6,606.97 L1848.4,615.57 L1841.6,624.17 L1834.8,615.57 Z" fill="#008000"/>
<path d="M1967.45,657.2 L1974.25,665.8 L1967.45,674.4 L1960.65,665.8 Z" fill="#008000"/>
<path d="M2093.3,657.2 L2100.1,665.8 L2093.3,674.4 L2086.5,665.8 Z" fill="#008000"/>
<path d="M1274,67.3H2158.7" stroke="#000" stroke-width="5" fill="none"/>
<path d="M1274,720.3H2158.7" stroke="#000" stroke-width="5.4" fill="none"/>
<path d="M2156.5,64.8V723" stroke="#000" stroke-width="4.4" fill="none"/>
<path d="M1276.5,64.8V723" stroke="#000" stroke-width="5" fill="none"/>
<line x1="1262.3" y1="665.8" x2="1276.5" y2="665.8" stroke="#000" stroke-width="4.6"/>
<text transform="translate(1206.29,676.8) scale(0.9200,1)" font-size="41" class="tb">0.0</text>
<line x1="1262.3" y1="556.6" x2="1276.5" y2="556.6" stroke="#000" stroke-width="4.6"/>
<text transform="translate(1206.47,567.6) scale(0.9200,1)" font-size="41" class="tb">0.2</text>
<line x1="1262.3" y1="447.4" x2="1276.5" y2="447.4" stroke="#000" stroke-width="4.6"/>
<text transform="translate(1205.55,458.4) scale(0.9200,1)" font-size="41" class="tb">0.4</text>
<line x1="1262.3" y1="338.2" x2="1276.5" y2="338.2" stroke="#000" stroke-width="4.6"/>
<text transform="translate(1205.96,349.2) scale(0.9200,1)" font-size="41" class="tb">0.6</text>
<line x1="1262.3" y1="229" x2="1276.5" y2="229" stroke="#000" stroke-width="4.6"/>
<text transform="translate(1206.1,240) scale(0.9200,1)" font-size="41" class="tb">0.8</text>
<line x1="1262.3" y1="119.8" x2="1276.5" y2="119.8" stroke="#000" stroke-width="4.6"/>
<text transform="translate(1206.29,130.8) scale(0.9200,1)" font-size="41" class="tb">1.0</text>
<line x1="1338.2" y1="720.3" x2="1338.2" y2="734" stroke="#000" stroke-width="4.6"/>
<text transform="translate(1328.26,772.5) scale(0.9700,1)" font-size="41" class="tb">0</text>
<line x1="1464.05" y1="720.3" x2="1464.05" y2="734" stroke="#000" stroke-width="4.6"/>
<text transform="translate(1454.04,772.5) scale(0.9700,1)" font-size="41" class="tb">5</text>
<line x1="1589.9" y1="720.3" x2="1589.9" y2="734" stroke="#000" stroke-width="4.6"/>
<text transform="translate(1569.18,772.5) scale(0.9700,1)" font-size="41" class="tb">10</text>
<line x1="1715.75" y1="720.3" x2="1715.75" y2="734" stroke="#000" stroke-width="4.6"/>
<text transform="translate(1695,772.5) scale(0.9700,1)" font-size="41" class="tb">15</text>
<line x1="1841.6" y1="720.3" x2="1841.6" y2="734" stroke="#000" stroke-width="4.6"/>
<text transform="translate(1821.64,772.5) scale(0.9700,1)" font-size="41" class="tb">20</text>
<line x1="1967.45" y1="720.3" x2="1967.45" y2="734" stroke="#000" stroke-width="4.6"/>
<text transform="translate(1947.46,772.5) scale(0.9700,1)" font-size="41" class="tb">25</text>
<line x1="2093.3" y1="720.3" x2="2093.3" y2="734" stroke="#000" stroke-width="4.6"/>
<text transform="translate(2073.42,772.5) scale(0.9700,1)" font-size="41" class="tb">30</text>
<text transform="translate(1588.78,832.7) scale(0.9580,1)" font-size="55" class="tb"><tspan>Time</tspan><tspan font-size="44" dy="-6.3">(</tspan><tspan dy="6.3">min</tspan><tspan font-size="44" dy="-6.3">)</tspan></text>
<text class="tb" transform="translate(1167,457.55) rotate(-90) scale(1.0427,1)" font-size="52"><tspan>C</tspan><tspan font-size="37" dy="1">t</tspan><tspan dy="-1">/C</tspan><tspan font-size="37" dy="1">0</tspan></text>
<text transform="translate(1105.33,79.1) scale(0.9673,1)" font-size="98" class="tn">(b)</text>
<line x1="1326.9" y1="474.6" x2="1400.2" y2="474.6" stroke="#000000" stroke-width="4"/>
<rect x="1356.5" y="468" width="13.2" height="13.2" fill="#000000"/>
<text transform="translate(1408.86,486.4) scale(0.8879,1)" font-size="42" class="tb">FA</text>
<line x1="1326.9" y1="522.9" x2="1400.2" y2="522.9" stroke="#ff0000" stroke-width="4"/>
<circle cx="1363.1" cy="522.9" r="7.2" fill="#ff0000"/>
<text transform="translate(1408.83,534.7) scale(0.9266,1)" font-size="42" class="tb">P25</text>
<line x1="1326.9" y1="572.3" x2="1400.2" y2="572.3" stroke="#0000ff" stroke-width="4"/>
<path d="M1363.1,561.8 L1371.3,578.8 L1354.9,578.8 Z" fill="#0000ff"/>
<text transform="translate(1408.83,584.1) scale(0.9276,1)" font-size="42" class="tb">FA+P25</text>
<line x1="1326.9" y1="621.2" x2="1400.2" y2="621.2" stroke="#ff00ff" stroke-width="4"/>
<path d="M1363.1,631.7 L1371.3,614.7 L1354.9,614.7 Z" fill="#ff00ff"/>
<text transform="translate(1408.83,633) scale(0.9288,1)" font-size="42" class="tb">Pd/P25</text>
<line x1="1326.9" y1="669.6" x2="1400.2" y2="669.6" stroke="#008000" stroke-width="4"/>
<path d="M1363.1,661 L1369.9,669.6 L1363.1,678.2 L1356.3,669.6 Z" fill="#008000"/>
<text transform="translate(1408.84,681.4) scale(0.9231,1)" font-size="42" class="tb">Pd/P25+FA</text>
</g>
<g>
<rect x="226.8" y="1308.86" width="45" height="159.84" fill="#000000" stroke="#262626" stroke-width="2"/>
<rect x="358.3" y="1291.59" width="45" height="177.11" fill="url(#h00ff00)" stroke="#262626" stroke-width="2"/>
<rect x="489.6" y="1265.37" width="45" height="203.33" fill="url(#h00ffff)" stroke="#262626" stroke-width="2"/>
<rect x="621.5" y="1315.41" width="45" height="153.29" fill="url(#hffff00)" stroke="#262626" stroke-width="2"/>
<rect x="753.2" y="1291.59" width="45" height="177.11" fill="url(#h000080)" stroke="#262626" stroke-width="2"/>
<rect x="885.6" y="1236.78" width="45" height="231.92" fill="url(#h800000)" stroke="#262626" stroke-width="2"/>
<rect x="1017.4" y="879.36" width="45" height="589.34" fill="url(#h008080)" stroke="#262626" stroke-width="2"/>
<path d="M214.5,844.5H1075.3" stroke="#2a2a2a" stroke-width="4.4" fill="none"/>
<path d="M214.5,1468.7H1075.3" stroke="#3a3a3a" stroke-width="5" fill="none"/>
<path d="M1072.8,842.3V1471.2" stroke="#444" stroke-width="5" fill="none"/>
<path d="M216.8,842.3V1471.2" stroke="#000" stroke-width="4.6" fill="none"/>
<line x1="202.3" y1="1468.7" x2="216.8" y2="1468.7" stroke="#000" stroke-width="4.2"/>
<text transform="translate(176.96,1479.9) scale(0.9000,1)" font-size="41" class="tb">0</text>
<line x1="202.3" y1="1349.56" x2="216.8" y2="1349.56" stroke="#000" stroke-width="4.2"/>
<text transform="translate(158.51,1360.76) scale(0.9000,1)" font-size="41" class="tb">20</text>
<line x1="202.3" y1="1230.42" x2="216.8" y2="1230.42" stroke="#000" stroke-width="4.2"/>
<text transform="translate(158.51,1241.62) scale(0.9000,1)" font-size="41" class="tb">40</text>
<line x1="202.3" y1="1111.28" x2="216.8" y2="1111.28" stroke="#000" stroke-width="4.2"/>
<text transform="translate(158.51,1122.48) scale(0.9000,1)" font-size="41" class="tb">60</text>
<line x1="202.3" y1="992.14" x2="216.8" y2="992.14" stroke="#000" stroke-width="4.2"/>
<text transform="translate(158.51,1003.34) scale(0.9000,1)" font-size="41" class="tb">80</text>
<line x1="202.3" y1="873" x2="216.8" y2="873" stroke="#000" stroke-width="4.2"/>
<text transform="translate(140.06,884.2) scale(0.9000,1)" font-size="41" class="tb">100</text>
<text transform="translate(205.9,1501.2) scale(1.0295,1)" font-size="28.5" class="ts">Pd/TS-1</text>
<text transform="translate(333.77,1501.2) scale(1.0801,1)" font-size="28.5" class="ts"><tspan>Pd/CeO</tspan><tspan font-size="14" style="stroke-width:0.3px" dy="13">2</tspan></text>
<text transform="translate(465.36,1501.2) scale(1.0994,1)" font-size="28.5" class="ts"><tspan>Pd/C</tspan><tspan font-size="14" style="stroke-width:0.3px" dy="13">3</tspan><tspan dy="-13">N</tspan><tspan font-size="14" style="stroke-width:0.3px" dy="13">4</tspan></text>
<text transform="translate(599.47,1501.2) scale(1.0782,1)" font-size="28.5" class="ts"><tspan>Pd/SiO</tspan><tspan font-size="14" style="stroke-width:0.3px" dy="13">2</tspan></text>
<text transform="translate(724.57,1501.2) scale(1.0917,1)" font-size="28.5" class="ts"><tspan>Pd/Al</tspan><tspan font-size="14" style="stroke-width:0.3px" dy="13">2</tspan><tspan dy="-13">O</tspan><tspan font-size="14" style="stroke-width:0.3px" dy="13">3</tspan></text>
<text transform="translate(859.09,1501.2) scale(1.0527,1)" font-size="28.5" class="ts">Pd/ZnO</text>
<text transform="translate(985.39,1501.2) scale(1.0542,1)" font-size="28.5" class="ts"><tspan>Pd/TiO</tspan><tspan font-size="14" style="stroke-width:0.3px" dy="13">2</tspan></text>
<text class="tb" transform="translate(114.4,1346.93) rotate(-90) scale(0.9972,1)" font-size="52">Conversion(%)</text>
<text transform="translate(24.02,872.7) scale(0.9715,1)" font-size="98" class="tn">(c)</text>
</g>
<g>
<rect x="1321" y="1269.3" width="72.5" height="201.5" fill="url(#hffff00)" stroke="#262626" stroke-width="2"/>
<rect x="1566.6" y="1167.55" width="72.5" height="303.25" fill="url(#h000080)" stroke="#262626" stroke-width="2"/>
<rect x="1812.2" y="930.15" width="72.5" height="540.65" fill="url(#h800000)" stroke="#262626" stroke-width="2"/>
<rect x="2057" y="883.74" width="72.5" height="587.06" fill="url(#h008080)" stroke="#262626" stroke-width="2"/>
<path d="M1295.1,846H2156.3" stroke="#6a6a6a" stroke-width="4.6" fill="none"/>
<path d="M1295.1,1470.8H2156.3" stroke="#5a5a5a" stroke-width="5" fill="none"/>
<path d="M2153.8,843.7V1473.3" stroke="#444" stroke-width="5" fill="none"/>
<path d="M1297.4,843.7V1473.3" stroke="#000" stroke-width="4.6" fill="none"/>
<line x1="1283.3" y1="1470.6" x2="1297.4" y2="1470.6" stroke="#000" stroke-width="4.2"/>
<text transform="translate(1258.96,1481.8) scale(0.9000,1)" font-size="41" class="tb">0</text>
<line x1="1283.3" y1="1351.6" x2="1297.4" y2="1351.6" stroke="#000" stroke-width="4.2"/>
<text transform="translate(1240.51,1362.8) scale(0.9000,1)" font-size="41" class="tb">20</text>
<line x1="1283.3" y1="1232.6" x2="1297.4" y2="1232.6" stroke="#000" stroke-width="4.2"/>
<text transform="translate(1240.51,1243.8) scale(0.9000,1)" font-size="41" class="tb">40</text>
<line x1="1283.3" y1="1113.6" x2="1297.4" y2="1113.6" stroke="#000" stroke-width="4.2"/>
<text transform="translate(1240.51,1124.8) scale(0.9000,1)" font-size="41" class="tb">60</text>
<line x1="1283.3" y1="994.6" x2="1297.4" y2="994.6" stroke="#000" stroke-width="4.2"/>
<text transform="translate(1240.51,1005.8) scale(0.9000,1)" font-size="41" class="tb">80</text>
<line x1="1283.3" y1="875.6" x2="1297.4" y2="875.6" stroke="#000" stroke-width="4.2"/>
<text transform="translate(1222.06,886.8) scale(0.9000,1)" font-size="41" class="tb">100</text>
<text transform="translate(1285.77,1501.5) scale(1.0812,1)" font-size="28.5" class="ts"><tspan>Pd/TiO</tspan><tspan font-size="14" style="stroke-width:0.3px" dy="13">2</tspan><tspan dy="-13">(nano)</tspan></text>
<text transform="translate(1493.47,1501.5) scale(1.0791,1)" font-size="28.5" class="ts"><tspan>Pd/TiO</tspan><tspan font-size="14" style="stroke-width:0.3px" dy="13">2</tspan><tspan dy="-13">(Anatase)</tspan></text>
<text transform="translate(1761.97,1501.5) scale(1.0840,1)" font-size="28.5" class="ts"><tspan>Pd/TiO</tspan><tspan font-size="14" style="stroke-width:0.3px" dy="13">2</tspan><tspan dy="-13">(Rutile)</tspan></text>
<text transform="translate(1991.77,1501.5) scale(1.0927,1)" font-size="28.5" class="ts"><tspan>Pd/TiO</tspan><tspan font-size="14" style="stroke-width:0.3px" dy="13">2</tspan><tspan dy="-13">(P25)</tspan></text>
<text class="tb" transform="translate(1194.4,1367.24) rotate(-90) scale(1.0011,1)" font-size="52">Conversion(%)</text>
<text transform="translate(1108.16,871) scale(0.9616,1)" font-size="98" class="tn">(d)</text>
</g>
</svg></body></html>
